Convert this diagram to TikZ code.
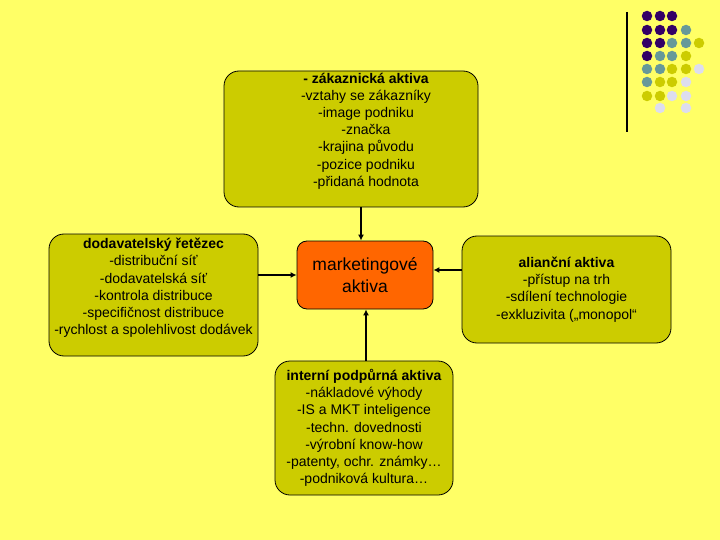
\documentclass[tikz,border=0pt]{standalone}
\usepackage{fontspec}
\setmainfont{Liberation Sans}
\usetikzlibrary{arrows.meta}
\definecolor{bg}{HTML}{FFFF66}
\definecolor{olive}{HTML}{CCCC00}
\definecolor{orng}{HTML}{FF6600}
\definecolor{dpur}{HTML}{330066}
\definecolor{teal}{HTML}{669999}
\definecolor{lav}{HTML}{DDDDEE}
\tikzset{
  box/.style={draw=black, line width=0.8pt, fill=olive, rounded corners=15pt, inner sep=0pt},
  txt/.style={align=center, inner sep=0pt, font=\fontsize{14}{17.2}\selectfont},
  arr/.style={line width=2pt, -{Latex[length=6pt,width=6pt]}},
  dot/.style={circle, inner sep=0pt, minimum size=10.5pt},
}
\begin{document}
\begin{tikzpicture}[x=1pt,y=-1pt]
\fill[bg] (0,0) rectangle (720,540);
\useasboundingbox (0,0) rectangle (720,540);
% decoration
\draw[line width=1.3pt] (627,12) -- (627,132);
\foreach \c/\xx/\yy in {
 dpur/647/16, dpur/660/16, dpur/672/16,
 dpur/647/30, dpur/660/30, dpur/672/30, teal/686/30,
 dpur/647/43, dpur/660/43, teal/672/43, teal/686/43, olive/699/43,
 dpur/647/56, teal/660/56, teal/672/56, olive/686/56,
 teal/647/69, teal/660/69, olive/672/69, olive/686/69, lav/699/69,
 teal/647/82, olive/660/82, olive/672/82, lav/686/82,
 olive/647/96, olive/660/96, lav/672/96, lav/686/96,
 lav/660/108, lav/686/108}
 \node[dot, fill=\c] at (\xx,\yy) {};
% boxes
\node[box, minimum width=254pt, minimum height=136pt] (top) at (351,139) {};
\node[txt] (toptxt) at (366,131) {\textbf{- zákaznická aktiva}\\-vztahy se zákazníky\\-image podniku\\-značka\\-krajina původu\\-pozice podniku\\-přidaná hodnota};
\node[box, minimum width=209pt, minimum height=122pt] (left) at (153.5,295) {};
\node[txt] (lefttxt) at (153.5,288) {\textbf{dodavatelský řetězec}\\-distribuční síť\\-dodavatelská síť\\-kontrola distribuce\\-specifičnost distribuce\\-rychlost a spolehlivost dodávek};
\node[box, fill=orng, rounded corners=10pt, minimum width=136pt, minimum height=68pt, align=center, font=\fontsize{17.5}{21.5}\selectfont] (mk) at (365,275) {marketingové\\aktiva};
\node[box, minimum width=209pt, minimum height=107pt, txt] (right) at (566.5,289.5) {\textbf{alianční aktiva}\\-přístup na trh\\-sdílení technologie\\-exkluzivita („monopol“};
\node[box, minimum width=178pt, minimum height=134pt, txt] (bot) at (364,428) {\textbf{interní podpůrná aktiva}\\-nákladové výhody\\-IS a MKT inteligence\\-techn. dovednosti\\-výrobní know-how\\-patenty, ochr. známky…\\-podniková kultura…};
% arrows
\draw[arr] (top.south -| 361,0) -- (mk.north -| 361,0);
\draw[arr] (left.east |- mk.west) -- (mk.west);
\draw[arr] (right.west |- 0,270) -- (mk.east |- 0,270);
\draw[arr] (bot.north -| 366,0) -- (mk.south -| 366,0);
\end{tikzpicture}
\end{document}
